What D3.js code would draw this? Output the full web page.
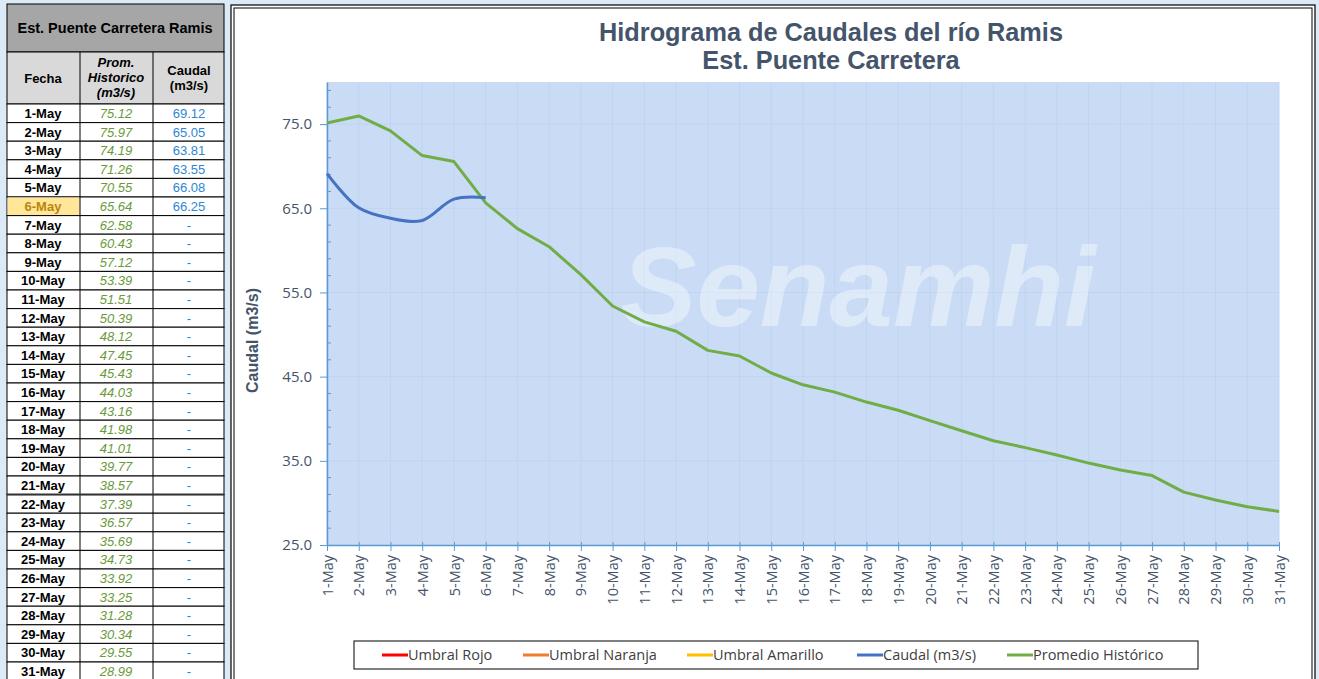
<!DOCTYPE html>
<html>
<head>
<meta charset="utf-8">
<script src="https://cdn.jsdelivr.net/npm/d3@7/dist/d3.min.js"></script>
<style>
  body { margin: 0; background: #dce9f6; }
  svg { display: block; }
</style>
</head>
<body>
<div id="app"></div>
<script>
// data
const fechas = d3.range(1, 32).map(d => d + '-May');
const promHistorico = [75.12, 75.97, 74.19, 71.26, 70.55, 65.64, 62.58, 60.43, 57.12, 53.39, 51.51,
  50.39, 48.12, 47.45, 45.43, 44.03, 43.16, 41.98, 41.01, 39.77, 38.57, 37.39, 36.57, 35.69,
  34.73, 33.92, 33.25, 31.28, 30.34, 29.55, 28.99];
const caudal = [69.12, 65.05, 63.81, 63.55, 66.08, 66.25];
const yTicks = [25, 35, 45, 55, 65, 75];
const legendItems = [
  { name: 'Umbral Rojo', color: '#ff0000' },
  { name: 'Umbral Naranja', color: '#ed7d31' },
  { name: 'Umbral Amarillo', color: '#ffc000' },
  { name: 'Caudal (m3/s)', color: '#4472c4' },
  { name: 'Promedio Histórico', color: '#70ad47' }
];
const legendX = [382, 523, 687, 857, 1007];
const today = '6-May';

const W = 1319, H = 679;
const svg = d3.select('#app').append('svg').attr('width', W).attr('height', H);

// ---------- table ----------
const tbl = svg.append('g');
const rowTop = 104, rowH = 18.6;

tbl.append('rect').attr('x', 7).attr('y', 4).attr('width', 217).attr('height', 48)
  .attr('fill', '#a6a6a6').attr('stroke', '#000');
tbl.append('text').attr('x', 115).attr('y', 33).attr('text-anchor', 'middle')
  .style('font', 'bold 14.5px "Liberation Sans", Arial').text('Est. Puente Carretera Ramis');

tbl.append('rect').attr('x', 7).attr('y', 52).attr('width', 217).attr('height', 52)
  .attr('fill', '#d9d9d9').attr('stroke', '#000');
tbl.selectAll('line.hc').data([80, 153]).enter().append('line')
  .attr('x1', d => d).attr('x2', d => d).attr('y1', 52).attr('y2', 104).attr('stroke', '#000');

const headFont = 'bold 13px "Liberation Sans", Arial';
tbl.append('text').attr('x', 43).attr('y', 83).attr('text-anchor', 'middle')
  .style('font', headFont).text('Fecha');
['Prom.', 'Historico', '(m3/s)'].forEach((t, i) => {
  tbl.append('text').attr('x', 116).attr('y', 67 + i * 15).attr('text-anchor', 'middle')
    .style('font', 'italic ' + headFont).text(t);
});
['Caudal', '(m3/s)'].forEach((t, i) => {
  tbl.append('text').attr('x', 189).attr('y', 75 + i * 15).attr('text-anchor', 'middle')
    .style('font', headFont).text(t);
});

const rows = tbl.selectAll('g.row').data(fechas).enter().append('g')
  .attr('transform', (d, i) => `translate(0,${rowTop + i * rowH})`);
rows.append('rect').attr('x', 7).attr('width', 217).attr('height', rowH)
  .attr('fill', '#fff').attr('stroke', '#000').attr('stroke-width', 1);
rows.filter(d => d === today).append('rect').attr('x', 7.5).attr('y', 0.5)
  .attr('width', 72).attr('height', rowH - 1).attr('fill', '#ffe699');
rows.append('line').attr('x1', 80).attr('x2', 80).attr('y2', rowH).attr('stroke', '#000');
rows.append('line').attr('x1', 153).attr('x2', 153).attr('y2', rowH).attr('stroke', '#000');
rows.append('text').attr('x', 43).attr('y', 14).attr('text-anchor', 'middle')
  .style('font', 'bold 13px "Liberation Sans", Arial')
  .attr('fill', d => d === today ? '#b8860b' : '#000').text(d => d);
rows.append('text').attr('x', 116).attr('y', 14).attr('text-anchor', 'middle')
  .style('font', 'italic 13px "Liberation Sans", Arial').attr('fill', '#6a9a3a')
  .text((d, i) => promHistorico[i].toFixed(2));
rows.append('text').attr('x', 189).attr('y', 14).attr('text-anchor', 'middle')
  .style('font', '13px "Liberation Sans", Arial').attr('fill', '#2e86d4')
  .text((d, i) => i < caudal.length ? caudal[i].toFixed(2) : '-');
tbl.append('line').attr('x1', 7).attr('x2', 224)
  .attr('y1', rowTop + 21 * rowH).attr('y2', rowTop + 21 * rowH)
  .attr('stroke', '#333').attr('stroke-width', 2);

// ---------- chart panel ----------
svg.append('rect').attr('x', 231).attr('y', 5).attr('width', 1084).attr('height', 680)
  .attr('fill', '#fff').attr('stroke', '#000').attr('stroke-width', 1.2);
svg.append('rect').attr('x', 234).attr('y', 8).attr('width', 1078).attr('height', 680)
  .attr('fill', 'none').attr('stroke', '#000').attr('stroke-width', 1);

const plot = { left: 327, right: 1279, top: 82, bottom: 545 };
const x = d3.scalePoint().domain(fechas).range([plot.left, plot.right]);
const y = d3.scaleLinear().domain([25, 80]).range([plot.bottom, plot.top]);

const titleFont = 'bold 25.3px "Liberation Sans", Arial';
svg.append('text').attr('x', 831).attr('y', 41).attr('text-anchor', 'middle')
  .style('font', titleFont).attr('fill', '#44546a').text('Hidrograma de Caudales del río Ramis');
svg.append('text').attr('x', 831).attr('y', 69).attr('text-anchor', 'middle')
  .style('font', titleFont).attr('fill', '#44546a').text('Est. Puente Carretera');

svg.append('rect').attr('x', plot.left).attr('y', plot.top)
  .attr('width', plot.right - plot.left).attr('height', plot.bottom - plot.top)
  .attr('fill', '#cadcf5');

// gridlines
svg.append('g').selectAll('line').data(fechas).enter().append('line')
  .attr('x1', d => x(d)).attr('x2', d => x(d)).attr('y1', plot.top).attr('y2', plot.bottom)
  .attr('stroke', '#bfd4ef').attr('stroke-width', 1);
svg.append('g').selectAll('line').data(yTicks).enter().append('line')
  .attr('x1', plot.left).attr('x2', plot.right).attr('y1', d => y(d)).attr('y2', d => y(d))
  .attr('stroke', '#bfd4ef').attr('stroke-width', 1);

// watermark
svg.append('text').attr('x', 858).attr('y', 326).attr('text-anchor', 'middle')
  .style('font', 'italic bold 114px "Liberation Sans", Arial')
  .attr('fill', '#fff').attr('opacity', 0.4).text('Senamhi');

// y axis
const yMinor = d3.range(25, 81, 2).filter(v => (v - 25) % 10 !== 0);
const yAxis = svg.append('g').attr('transform', `translate(${plot.left},0)`)
  .call(d3.axisLeft(y).tickValues(yTicks).tickFormat(d3.format('.1f'))
    .tickSizeInner(7).tickSizeOuter(0).tickPadding(8));
yAxis.select('.domain').attr('stroke', '#5b9bd5').attr('stroke-width', 1.5);
yAxis.selectAll('.tick line').attr('stroke', '#5b9bd5');
yAxis.selectAll('.tick text').style('font', '15px "Open Sans", sans-serif').attr('fill', '#44546a');
svg.append('g').selectAll('line').data(yMinor).enter().append('line')
  .attr('x1', plot.left).attr('x2', plot.left + 4).attr('y1', d => y(d)).attr('y2', d => y(d))
  .attr('stroke', '#5b9bd5');

// x axis
const xAxis = svg.append('g').attr('transform', `translate(0,${plot.bottom})`)
  .call(d3.axisBottom(x).tickSizeInner(6).tickSizeOuter(0).tickPadding(5));
xAxis.select('.domain').attr('stroke', '#5b9bd5').attr('stroke-width', 1.5);
xAxis.selectAll('.tick line').attr('stroke', '#5b9bd5').attr('y1', -3);
xAxis.selectAll('.tick text')
  .style('font', '14.5px "Open Sans", sans-serif').attr('fill', '#44546a')
  .attr('text-anchor', 'end').attr('dy', '0.35em')
  .attr('transform', 'rotate(-90)').attr('x', -10).attr('y', 0);

svg.append('text').attr('transform', `translate(258,${(plot.top + plot.bottom) / 2 + 27}) rotate(-90)`)
  .attr('text-anchor', 'middle').style('font', 'bold 16px "Liberation Sans", Arial')
  .attr('fill', '#44546a').text('Caudal (m3/s)');

// lines
const promLine = d3.line().x((d, i) => x(fechas[i])).y(d => y(d));
svg.append('path').datum(promHistorico).attr('d', promLine)
  .attr('fill', 'none').attr('stroke', '#70ad47').attr('stroke-width', 3).attr('stroke-linejoin', 'round');
const caudalLine = d3.line().x((d, i) => x(fechas[i])).y(d => y(d)).curve(d3.curveCatmullRom.alpha(0.5));
svg.append('path').datum(caudal).attr('d', caudalLine)
  .attr('fill', 'none').attr('stroke', '#4472c4').attr('stroke-width', 3).attr('stroke-linejoin', 'round');

// legend
const lg = svg.append('g');
lg.append('rect').attr('x', 354).attr('y', 641).attr('width', 844).attr('height', 28)
  .attr('fill', '#fff').attr('stroke', '#000');
const li = lg.selectAll('g.li').data(legendItems).enter().append('g')
  .attr('transform', (d, i) => `translate(${legendX[i]},655)`);
li.append('line').attr('x1', 0).attr('x2', 26).attr('stroke', d => d.color).attr('stroke-width', 3);
li.append('text').attr('x', 26).attr('dy', '0.35em')
  .style('font', '14.5px "Open Sans", sans-serif').attr('fill', '#404040').text(d => d.name);
</script>
</body>
</html>
